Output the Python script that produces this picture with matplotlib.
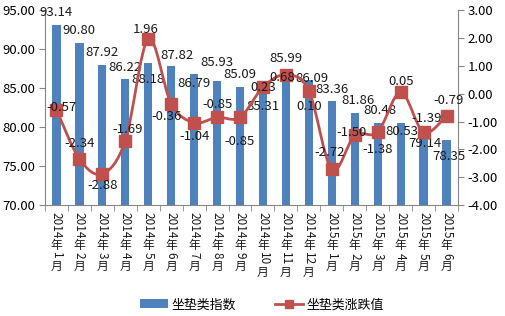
import matplotlib
matplotlib.use("Agg")
import matplotlib.pyplot as plt
from matplotlib.path import Path
from matplotlib.patches import PathPatch, Patch
from matplotlib.lines import Line2D
import numpy as np
import re

plt.rcParams['font.family'] = ['Noto Sans CJK SC', 'DejaVu Sans']

months = ["2014年1月", "2014年2月", "2014年3月", "2014年4月", "2014年5月", "2014年6月",
          "2014年7月", "2014年8月", "2014年9月", "2014年10月", "2014年11月", "2014年12月",
          "2015年1月", "2015年2月", "2015年3月", "2015年4月", "2015年5月", "2015年6月"]
index_values = [93.14, 90.80, 87.92, 86.22, 88.18, 87.82, 86.79, 85.93, 85.09,
                85.31, 85.99, 86.09, 83.36, 81.86, 80.48, 80.53, 79.14, 78.35]
change_values = [-0.57, -2.34, -2.88, -1.69, 1.96, -0.36, -1.04, -0.85, -0.85,
                 0.23, 0.68, 0.10, -2.72, -1.50, -1.38, 0.05, -1.39, -0.79]
bar_name = "坐垫类指数"
line_name = "坐垫类涨跌值"

# label offsets in pixels (dx, dy) relative to bar top / marker
bar_label_off = [(0, 12), (0, 12), (0, 13), (0, 11), (0, -16), (6, 11), (0, -9), (0, 18), (0, 13),
                 (0, -21), (0, 22), (3, 1), (0, 11), (3, 12), (2, 13), (1, -9), (1, -10), (2, -17)]
line_label_off = [(5, 2), (0, 15), (0, -12), (2, 11), (-2, 10), (-5, -13), (0, -14), (0, 13), (0, -24),
                  (0, 0), (-4, -3), (0, -16), (-2, 17), (-3, 3), (0, -17), (0, 11), (3, 14), (2, 15)]

bar_color = '#4F81BD'
line_color = '#C0504D'
axis_gray = '#868686'

fig = plt.figure(figsize=(5.05, 3.16), dpi=100)
ax = fig.add_axes([0.089, 0.351, 0.818, 0.617])
ax2 = ax.twinx()

x = np.arange(len(months))
ax.bar(x, index_values, width=0.36, color=bar_color, zorder=2)
ax.set_xlim(-0.5, len(months) - 0.5)
ax.set_ylim(70, 95)
ax.set_yticks(np.arange(70, 95.1, 5))
ax.set_yticklabels([f"{v:.2f}" for v in np.arange(70, 95.1, 5)], fontsize=9.5)
ax2.set_ylim(-4, 3)
ax2.set_yticks(np.arange(-4, 3.1, 1))
ax2.set_yticklabels([f"{v:.2f}" for v in np.arange(-4, 3.1, 1)], fontsize=9.5)

ax.set_xticks(x)
ax.set_xticklabels([])
ax.tick_params(axis='x', which='major', length=0)
ax.set_xticks(np.arange(-0.5, len(months)), minor=True)
ax.tick_params(axis='x', which='minor', length=4, color=axis_gray)
ax.tick_params(axis='y', length=4, color=axis_gray, pad=3)
ax2.tick_params(axis='y', length=4, color=axis_gray, pad=3)

for a in (ax, ax2):
    a.spines['top'].set_visible(False)
    for s in ('left', 'right', 'bottom'):
        a.spines[s].set_color(axis_gray)
ax2.spines['left'].set_visible(False)
ax2.spines['bottom'].set_visible(False)
ax.spines['right'].set_visible(False)

# smooth line (Catmull-Rom through the data points)
pts = np.column_stack([x, change_values]).astype(float)
verts = [tuple(pts[0])]
codes = [Path.MOVETO]
n = len(pts)
for i in range(n - 1):
    p0 = pts[i - 1] if i > 0 else pts[i]
    p1 = pts[i]
    p2 = pts[i + 1]
    p3 = pts[i + 2] if i + 2 < n else pts[i + 1]
    c1 = p1 + (p2 - p0) / 6.0
    c2 = p2 - (p3 - p1) / 6.0
    verts += [tuple(c1), tuple(c2), tuple(p2)]
    codes += [Path.CURVE4] * 3
ax2.add_patch(PathPatch(Path(verts, codes), facecolor='none', edgecolor=line_color, lw=2.0, zorder=3))
ax2.plot(x, change_values, ls='none', marker='s', markersize=8.5, color=line_color, zorder=4)

for i, v in enumerate(index_values):
    dx, dy = bar_label_off[i]
    ax.annotate(f"{v:.2f}", (x[i], v), xytext=(dx, dy), textcoords='offset pixels',
                ha='center', va='center', fontsize=9.5, color='#1a1a1a', zorder=5)
for i, v in enumerate(change_values):
    dx, dy = line_label_off[i]
    ax2.annotate(f"{v:.2f}", (x[i], v), xytext=(dx, dy), textcoords='offset pixels',
                 ha='center', va='center', fontsize=9.5, color='#1a1a1a', zorder=6)

# vertical category labels: digits rotated, CJK characters upright (East Asian vertical text)
fig.canvas.draw()
renderer = fig.canvas.get_renderer()
tick_fs = 8.5
for i, lab in enumerate(months):
    runs = re.findall(r'[0-9]+|[^0-9]', lab)
    cursor = 7.0
    for run in runs:
        is_digit = run.isdigit()
        t = ax.annotate(run, xy=(x[i], 0), xycoords=('data', 'axes fraction'),
                        xytext=(0, -cursor), textcoords='offset pixels',
                        rotation=270 if is_digit else 0, ha='center', va='top',
                        fontsize=tick_fs, color='#1a1a1a', annotation_clip=False)
        bb = t.get_window_extent(renderer=renderer)
        cursor += bb.height + 0.5

handles = [Patch(facecolor=bar_color, edgecolor='none'),
           Line2D([], [], color=line_color, lw=2.0, marker='s', markersize=6)]
fig.legend(handles, [bar_name, line_name], loc='center', bbox_to_anchor=(0.518, 0.035),
           ncol=2, frameon=False, fontsize=9.3, handlelength=2.2, columnspacing=3.0,
           handletextpad=0.25)

fig.savefig("out.png", dpi=100)
